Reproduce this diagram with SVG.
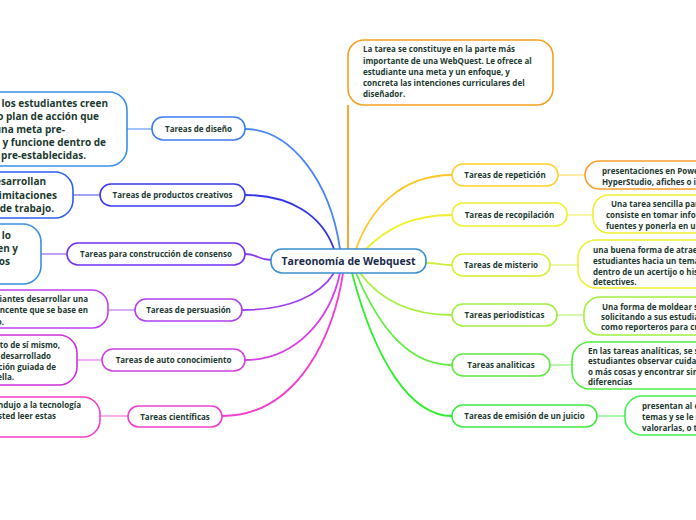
<svg xmlns="http://www.w3.org/2000/svg" width="696" height="520" viewBox="0 0 696 520">
<style>
text{font-family:"Open Sans","Noto Sans","DejaVu Sans",sans-serif;font-weight:700;fill:#1d3a30}
.lbl{font-size:8px;text-anchor:middle}
.tx{font-size:8px}
.big{font-size:10px}
.end{text-anchor:end}
rect{fill:#fff;stroke-width:1.6}
.c{fill:none;stroke-width:1.8}
.s{fill:none;stroke-width:1.6}
</style>
<rect width="696" height="520" fill="#fff" stroke="none"/>
<g id="connectors">
<path class="c" d="M245,129 C290,129 330,180 340,249" stroke="#4a86f5"/>
<path class="c" d="M245,195 C290,195 322,215 334,249" stroke="#3535e8"/>
<path class="c" d="M271,260 C258,260 258,254 245,254" stroke="#8a3cf0"/>
<path class="c" d="M242,310 C290,310 320,295 334,273" stroke="#a040f0"/>
<path class="c" d="M245,360 C295,360 330,320 340,273" stroke="#d840e8"/>
<path class="c" d="M222,416 C300,416 335,330 343,273" stroke="#f040d0"/>
<path class="c" d="M452,175 C400,175 370,210 356,249" stroke="#ffc828"/>
<path class="c" d="M452,215 C410,215 385,230 366,249" stroke="#eef030"/>
<path class="c" d="M426,263 C440,263 440,265 452,265" stroke="#cdf040"/>
<path class="c" d="M360,273 C380,300 410,315 452,315" stroke="#a8f040"/>
<path class="c" d="M356,273 C380,330 410,365 452,365" stroke="#60ee40"/>
<path class="c" d="M352,273 C375,360 410,416 452,416" stroke="#30ee30"/>
<path class="c" d="M348,105 L348,249" stroke="#f5a020"/>
<path class="s" d="M152,129 L127,129" stroke="#8ab4f8"/>
<path class="s" d="M100,195 L73,195" stroke="#8a8af5"/>
<path class="s" d="M67,254 L41,254" stroke="#b48af5"/>
<path class="s" d="M135,310 L108,310" stroke="#d09af5"/>
<path class="s" d="M102,360 L77,360" stroke="#ec9af0"/>
<path class="s" d="M128,416 L100,416" stroke="#f59ae0"/>
<path class="s" d="M558,175 L585,175" stroke="#ffe690"/>
<path class="s" d="M567,215 L593,215" stroke="#f5f590"/>
<path class="s" d="M550,265 L578,265" stroke="#e6f590"/>
<path class="s" d="M557,315 L584,315" stroke="#cdf59a"/>
<path class="s" d="M550,365 L572,365" stroke="#a8f59a"/>
<path class="s" d="M597,416 L625,416" stroke="#90f590"/>
</g>
<g id="center">
<rect x="271" y="249" width="155" height="24" rx="11" stroke="#3a8fd0"/>
<text x="348.5" y="265" style="font-size:10.5px;text-anchor:middle;fill:#1b2b4b">Tareonomía de Webquest</text>
</g>
<g id="intro">
<rect x="348" y="40" width="205" height="65" rx="16" stroke="#f5a020"/>
<text class="tx" x="363" y="52">La tarea se constituye en la parte más</text>
<text class="tx" x="363" y="63.5">importante de una WebQuest. Le ofrece al</text>
<text class="tx" x="363" y="75">estudiante una meta y un enfoque, y</text>
<text class="tx" x="363" y="86">concreta las intenciones curriculares del</text>
<text class="tx" x="363" y="97">diseñador.</text>
</g>
<g id="repeticion">
<rect x="452" y="164" width="106" height="22" rx="11" stroke="#ffd030"/>
<text class="lbl" x="505" y="178">Tareas de repetición</text>
</g>
<g id="repeticion-txt">
<rect x="585" y="161" width="140" height="28" rx="14" stroke="#f8a030"/>
<text class="tx" x="602" y="173.5">presentaciones en PowerPoint o</text>
<text class="tx" x="602" y="184.5">HyperStudio, afiches o informes</text>
</g>
<g id="recopilacion">
<rect x="452" y="203" width="115" height="23" rx="11" stroke="#eef030"/>
<text class="lbl" x="509.5" y="217.5">Tareas de recopilación</text>
</g>
<g id="recopilacion-txt">
<rect x="593" y="195" width="140" height="38" rx="16" stroke="#f0f030"/>
<text class="tx" x="611" y="207">Una tarea sencilla para</text>
<text class="tx" x="606" y="218">consiste en tomar información</text>
<text class="tx" x="606" y="229">fuentes y ponerla en un</text>
</g>
<g id="misterio">
<rect x="452" y="254" width="98" height="22" rx="11" stroke="#d8f030"/>
<text class="lbl" x="501" y="268">Tareas de misterio</text>
</g>
<g id="misterio-txt">
<rect x="578" y="240" width="160" height="48" rx="18" stroke="#f0f030"/>
<text class="tx" x="593" y="253">una buena forma de atraer</text>
<text class="tx" x="593" y="264">estudiantes hacia un tema</text>
<text class="tx" x="593" y="274.5">dentro de un acertijo o historia</text>
<text class="tx" x="593" y="285">detectives.</text>
</g>
<g id="periodisticas">
<rect x="452" y="304" width="105" height="22" rx="11" stroke="#a0f040"/>
<text class="lbl" x="504.5" y="318">Tareas periodisticas</text>
</g>
<g id="periodisticas-txt">
<rect x="584" y="297" width="150" height="38" rx="16" stroke="#a0f040"/>
<text class="tx" x="602" y="309.5">Una forma de moldear su</text>
<text class="tx" x="601" y="320">solicitando a sus estudiantes</text>
<text class="tx" x="601" y="330">como reporteros para cubrir</text>
</g>
<g id="analiticas">
<rect x="452" y="354" width="98" height="22" rx="11" stroke="#60e840"/>
<text class="lbl" x="501" y="368">Tareas analiticas</text>
</g>
<g id="analiticas-txt">
<rect x="572" y="342" width="160" height="47" rx="18" stroke="#50ee40"/>
<text class="tx" x="588" y="354">En las tareas analíticas, se solicita</text>
<text class="tx" x="588" y="364">estudiantes observar cuidadosamente</text>
<text class="tx" x="588" y="375">o más cosas y encontrar similitudes</text>
<text class="tx" x="588" y="385">diferencias</text>
</g>
<g id="juicio">
<rect x="452" y="405" width="145" height="22" rx="11" stroke="#40e840"/>
<text class="lbl" x="524.5" y="419">Tareas de emisión de un juicio</text>
</g>
<g id="juicio-txt">
<rect x="625" y="396" width="120" height="39" rx="17" stroke="#40f050"/>
<text class="tx" x="642" y="409">presentan al estudiante</text>
<text class="tx" x="642" y="420">temas y se le solicita</text>
<text class="tx" x="642" y="431">valorarlas, o tomar</text>
</g>
<g id="diseno">
<rect x="152" y="117" width="93" height="23" rx="11" stroke="#3b7cf5"/>
<text class="lbl" x="198.5" y="131.5">Tareas de diseño</text>
</g>
<g id="diseno-txt">
<rect x="-60" y="92" width="187" height="74" rx="18" stroke="#3a8ee8"/>
<text class="big end" x="108" y="107">Se trata de que los estudiantes creen</text>
<text class="big end" x="99" y="120">un producto o plan de acción que</text>
<text class="big end" x="65" y="133">alcance una meta pre-</text>
<text class="big end" x="106" y="146">determinada y funcione dentro de</text>
<text class="big end" x="86" y="159">restricciones pre-establecidas.</text>
</g>
<g id="productos">
<rect x="100" y="184" width="145" height="22" rx="11" stroke="#3a3af0"/>
<text class="lbl" x="172.5" y="198">Tareas de productos creativos</text>
</g>
<g id="productos-txt">
<rect x="-60" y="172" width="133" height="46" rx="18" stroke="#2f5ff0"/>
<text class="big end" x="46" y="185">Los estudiantes desarrollan</text>
<text class="big end" x="57" y="198.5">productos creativos con limitaciones</text>
<text class="big end" x="54" y="212">en un formato de trabajo.</text>
</g>
<g id="consenso">
<rect x="67" y="243" width="178" height="22" rx="11" stroke="#7030f0"/>
<text class="lbl" x="156" y="257">Tareas para construcción de consenso</text>
</g>
<g id="consenso-txt">
<rect x="-60" y="224" width="101" height="60" rx="18" stroke="#3a90e0"/>
<text class="big end" x="11" y="239">Se busca desarrollar lo</text>
<text class="big end" x="18" y="252">que otros consideren y</text>
<text class="big end" x="10" y="265">acepten algunos</text>
</g>
<g id="persuasion">
<rect x="135" y="299" width="107" height="22" rx="11" stroke="#b040f0"/>
<text class="lbl" x="188.5" y="313">Tareas de persuasión</text>
</g>
<g id="persuasion-txt">
<rect x="-60" y="290" width="168" height="38" rx="16" stroke="#c040f0"/>
<text class="tx end" x="88" y="301.5">Exige a los estudiantes desarrollar una</text>
<text class="tx end" x="88" y="313">historia convincente que se base en</text>
<text class="tx end" x="4" y="325">lo aprendido.</text>
</g>
<g id="auto">
<rect x="102" y="349" width="143" height="22" rx="11" stroke="#d040e0"/>
<text class="lbl" x="173.5" y="363">Tareas de auto conocimiento</text>
</g>
<g id="auto-txt">
<rect x="-60" y="335" width="137" height="50" rx="18" stroke="#d030d8"/>
<text class="tx end" x="60" y="348">Para un mejor conocimiento de sí mismo,</text>
<text class="tx end" x="51" y="358.5">que puede ser desarrollado</text>
<text class="tx end" x="56" y="369.5">a través de una exploración guiada de</text>
<text class="tx end" x="14" y="380">ella.</text>
</g>
<g id="cientificas">
<rect x="128" y="406" width="94" height="21" rx="10.5" stroke="#f040d0"/>
<text class="lbl" x="175" y="419.5">Tareas científicas</text>
</g>
<g id="cientificas-txt">
<rect x="-60" y="397" width="160" height="40" rx="17" stroke="#f040c8"/>
<text class="tx end" x="81" y="408">La ciencia condujo a la tecnología</text>
<text class="tx end" x="56" y="419">que le permite a usted leer estas</text>
</g>
</svg>
